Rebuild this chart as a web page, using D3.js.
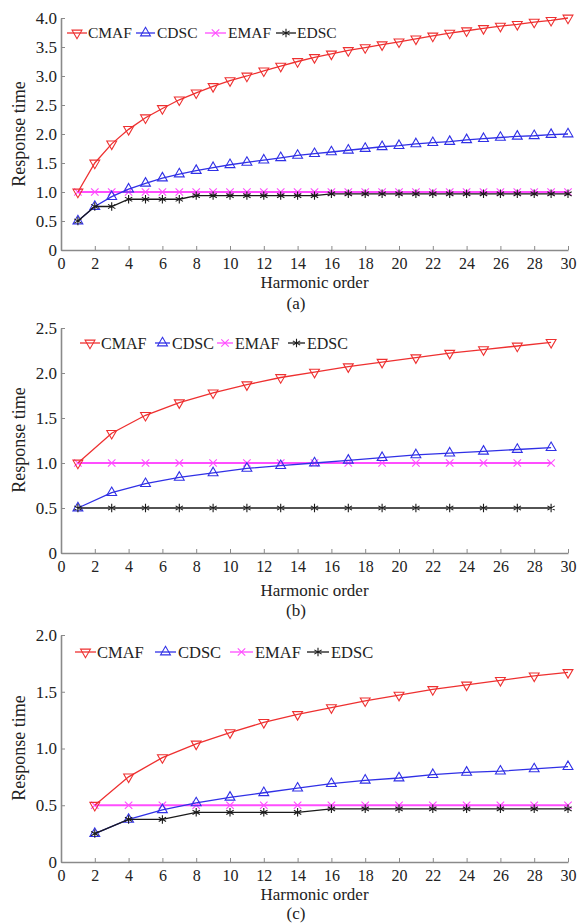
<!DOCTYPE html>
<html><head><meta charset="utf-8">
<script src="https://cdn.jsdelivr.net/npm/d3@7"></script>
<style>
body{margin:0;background:#fff}
svg{display:block}
text{font-family:"Liberation Serif","Times New Roman",serif;fill:#222}
</style>
</head><body>
<svg id="chart" width="583" height="924"></svg>
<script>
// ---------- data ----------
const seriesNames = ["CMAF", "CDSC", "EMAF", "EDSC"];
const xTickValues = [0, 2, 4, 6, 8, 10, 12, 14, 16, 18, 20, 22, 24, 26, 28, 30];

// panel (a)
const ordersA = [1,2,3,4,5,6,7,8,9,10,11,12,13,14,15,16,17,18,19,20,21,22,23,24,25,26,27,28,29,30];
const cmafA = [1.0,1.5,1.83,2.08,2.28,2.44,2.59,2.71,2.82,2.92,3.0,3.09,3.17,3.25,3.32,3.38,3.44,3.49,3.54,3.59,3.64,3.69,3.74,3.78,3.82,3.86,3.89,3.93,3.96,4.0];
const cdscA = [0.5,0.75,0.92,1.05,1.15,1.24,1.31,1.37,1.42,1.47,1.51,1.55,1.59,1.63,1.66,1.69,1.72,1.75,1.78,1.8,1.83,1.85,1.87,1.9,1.92,1.94,1.96,1.97,1.99,2.0];
const emafA = [1,1,1,1,1,1,1,1,1,1,1,1,1,1,1,1,1,1,1,1,1,1,1,1,1,1,1,1,1,1];
const edscA = [0.5,0.75,0.75,0.875,0.875,0.875,0.875,0.9375,0.9375,0.9375,0.9375,0.9375,0.9375,0.9375,0.9375,0.96875,0.96875,0.96875,0.96875,0.96875,0.96875,0.96875,0.96875,0.96875,0.96875,0.96875,0.96875,0.96875,0.96875,0.96875];
const yTicksA = [0,0.5,1.0,1.5,2.0,2.5,3.0,3.5,4.0];

// panel (b)
const ordersB = [1,3,5,7,9,11,13,15,17,19,21,23,25,27,29];
const cmafB = [1.0,1.33,1.53,1.67,1.78,1.87,1.95,2.01,2.07,2.12,2.17,2.22,2.26,2.3,2.34];
const cdscB = [0.5,0.67,0.77,0.84,0.89,0.94,0.97,1.0,1.03,1.06,1.09,1.11,1.13,1.15,1.17];
const emafB = [1,1,1,1,1,1,1,1,1,1,1,1,1,1,1];
const edscB = [0.5,0.5,0.5,0.5,0.5,0.5,0.5,0.5,0.5,0.5,0.5,0.5,0.5,0.5,0.5];
const yTicksB = [0,0.5,1.0,1.5,2.0,2.5];

// panel (c)
const ordersC = [2,4,6,8,10,12,14,16,18,20,22,24,26,28,30];
const cmafC = [0.5,0.75,0.92,1.04,1.14,1.23,1.3,1.36,1.42,1.47,1.52,1.56,1.6,1.64,1.67];
const cdscC = [0.25,0.375,0.46,0.52,0.57,0.61,0.65,0.69,0.72,0.74,0.77,0.79,0.8,0.82,0.84];
const emafC = [0.5,0.5,0.5,0.5,0.5,0.5,0.5,0.5,0.5,0.5,0.5,0.5,0.5,0.5,0.5];
const edscC = [0.25,0.375,0.375,0.4375,0.4375,0.4375,0.4375,0.46875,0.46875,0.46875,0.46875,0.46875,0.46875,0.46875,0.46875];
const yTicksC = [0,0.5,1.0,1.5,2.0];

const panelLabels = ["(a)", "(b)", "(c)"];
const xTitle = "Harmonic order";
const yTitle = "Response time";

// ---------- styles ----------
const colors = {CMAF:"#ee3030", CDSC:"#3030e6", EMAF:"#ff4dff", EDSC:"#1a1a1a"};
const symbols = {CMAF:d3.symbolTriangle, CDSC:d3.symbolTriangle, EMAF:d3.symbolX, EDSC:d3.symbolAsterisk};
const rotations = {CMAF:180, CDSC:0, EMAF:0, EDSC:0};
const symSize = {CMAF:42, CDSC:42, EMAF:38, EDSC:50};

const panels = [
  {orders:ordersA, values:[cmafA,cdscA,emafA,edscA], yTicks:yTicksA, yMax:4.0, top:18, bottom:250,
   legendY:33, legendX:[[67,87,88],[136,155,157],[205,226,228],[276,296,297]], legendFont:15.5,
   tickBase:19, titleBase:288, labelBase:309, yTitleY:134},
  {orders:ordersB, values:[cmafB,cdscB,emafB,edscB], yTicks:yTicksB, yMax:2.5, top:328, bottom:553,
   legendY:343, legendX:[[80,100,101],[155,170,172],[217,233,235],[288,305,307]], legendFont:16,
   tickBase:19, titleBase:596, labelBase:616, yTitleY:440},
  {orders:ordersC, values:[cmafC,cdscC,emafC,edscC], yTicks:yTicksC, yMax:2.0, top:635, bottom:862,
   legendY:652, legendX:[[75,96,97],[155,176,178],[230,253,255],[307,329,331]], legendFont:16.5,
   tickBase:19, titleBase:900, labelBase:919, yTitleY:748}
];

const svg = d3.select("#chart");
const xLeft = 61, xRight = 568;
const axisColor = "#8a8a8a";
const xTickFont = 16, yTickFont = 17, titleFont = 17;

function marker(g, name, cx, cy) {
  const sym = d3.symbol().type(symbols[name]).size(symSize[name]);
  g.append("path")
    .attr("d", sym())
    .attr("transform", `translate(${cx},${cy}) rotate(${rotations[name]})`)
    .attr("fill", "none")
    .attr("stroke", colors[name])
    .attr("stroke-width", 1.1);
}

panels.forEach((p, pi) => {
  const g = svg.append("g");
  const x = d3.scaleLinear().domain([0, 30]).range([xLeft, xRight]);
  const y = d3.scaleLinear().domain([0, p.yMax]).range([p.bottom, p.top]);

  // x axis (ticks point inward)
  const xa = g.append("g").attr("transform", `translate(0,${p.bottom})`)
    .call(d3.axisBottom(x).tickValues(xTickValues).tickSizeInner(-4).tickSizeOuter(0)
      .tickPadding(p.tickBase - Math.round(0.71 * xTickFont))
      .tickFormat(d3.format("d")));
  // y axis
  const ya = g.append("g").attr("transform", `translate(${xLeft},0)`)
    .call(d3.axisLeft(y).tickValues(p.yTicks).tickSizeInner(-4).tickSizeOuter(0).tickPadding(4)
      .tickFormat(d => d === 0 ? "0" : d.toFixed(1)));
  [xa, ya].forEach((a, ai) => {
    a.select(".domain").attr("stroke", axisColor).attr("stroke-width", 1.6);
    a.selectAll(".tick line").attr("stroke", axisColor).attr("stroke-width", 1);
    a.selectAll(".tick text").attr("font-size", ai === 0 ? xTickFont : yTickFont)
      .attr("font-family", '"Liberation Serif",serif').attr("fill", "#222");
  });

  // axis titles
  g.append("text").attr("x", (xLeft + xRight) / 2).attr("y", p.titleBase)
    .attr("text-anchor", "middle").attr("font-size", titleFont).text(xTitle);
  g.append("text").attr("transform", `translate(25,${p.yTitleY}) rotate(-90)`)
    .attr("text-anchor", "middle").attr("font-size", 18).text(yTitle);
  g.append("text").attr("x", 296).attr("y", p.labelBase)
    .attr("text-anchor", "middle").attr("font-size", titleFont).text(panelLabels[pi]);

  // series — draw EMAF first so others sit on top
  const order = [2, 0, 1, 3];
  order.forEach(si => {
    const name = seriesNames[si];
    const pts = p.orders.map((o, i) => [o, p.values[si][i]]);
    g.append("path")
      .datum(pts)
      .attr("fill", "none")
      .attr("stroke", colors[name])
      .attr("stroke-width", name === "EMAF" ? 1.8 : 1.3)
      .attr("d", d3.line().x(d => x(d[0])).y(d => y(d[1])));
    pts.forEach(d => marker(g, name, x(d[0]), y(d[1])));
  });

  // legend
  seriesNames.forEach((name, si) => {
    const [x0, x1, tx] = p.legendX[si];
    g.append("line").attr("x1", x0).attr("x2", x1).attr("y1", p.legendY).attr("y2", p.legendY)
      .attr("stroke", colors[name]).attr("stroke-width", 1.3);
    marker(g, name, (x0 + x1) / 2, p.legendY);
    g.append("text").attr("x", tx).attr("y", p.legendY).attr("dy", "0.35em")
      .attr("font-size", p.legendFont).text(name);
  });
});
</script>
</body></html>
